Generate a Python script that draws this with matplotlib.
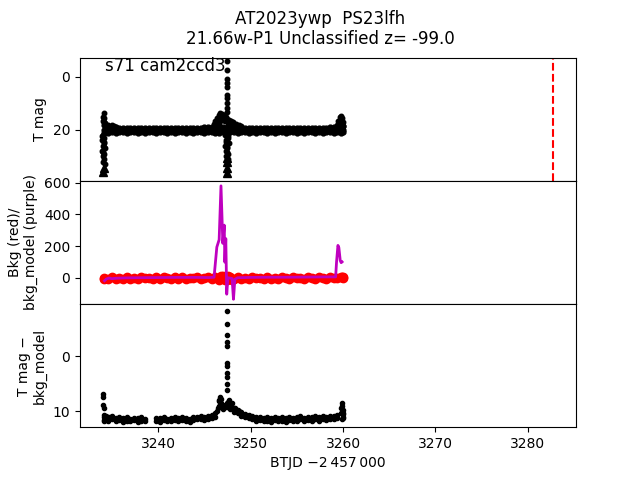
import numpy as np
import matplotlib
matplotlib.use("Agg")
import matplotlib.pyplot as plt

nan = np.nan

# common time base (BTJD - 2457000)
t_base = [3234.2, 3234.6, 3235.0, 3235.4, 3235.8, 3236.2, 3236.6, 3237.0, 3237.4, 3237.8,
          3238.2, 3238.6, 3239.0, 3239.4, 3239.8, 3240.2, 3240.6, 3241.0, 3241.4, 3241.8,
          3242.2, 3242.6, 3243.0, 3243.4, 3243.8, 3244.2, 3244.6, 3245.0, 3245.4, 3245.8,
          3246.2, 3246.6, 3247.0, 3247.4, 3247.8, 3248.2, 3248.6, 3249.0, 3249.4, 3249.8,
          3250.2, 3250.6, 3251.0, 3251.4, 3251.8, 3252.2, 3252.6, 3253.0, 3253.4, 3253.8,
          3254.2, 3254.6, 3255.0, 3255.4, 3255.8, 3256.2, 3256.6, 3257.0, 3257.4, 3257.8,
          3258.2, 3258.6, 3259.0, 3259.4, 3259.8, 3260.0]

# top panel: T mag (band upper / middle / lower rows)
tmag_a = [18.2, 18.6, 18.8, 19.0, 19.2, 19.3, 19.4, 19.2, 19.4, 19.3,
          19.5, 19.3, 19.4, 19.2, 19.4, 19.3, 19.5, 19.4, 19.2, 19.4,
          19.3, 19.5, 19.3, 19.4, 19.2, 19.4, 19.3, 19.1, 19.0, 18.8,
          18.6, 18.7, 18.9, 19.0, 19.1, 19.2, 19.3, 19.4, 19.3, 19.5,
          19.3, 19.4, 19.2, 19.4, 19.3, 19.5, 19.3, 19.4, 19.2, 19.4,
          19.3, 19.5, 19.3, 19.4, 19.2, 19.4, 19.3, 19.4, 19.2, 19.3,
          19.2, 19.1, 19.0, 18.8, 18.6, 18.7]
tmag_m = [20.1, 20.2, 20.0, 20.1, 20.2, 20.0, 20.1, 20.2, 20.0, 20.1,
          20.2, 20.0, 20.1, 20.2, 20.0, 20.1, 20.2, 20.0, 20.1, 20.2,
          20.0, 20.1, 20.2, 20.0, 20.1, 20.2, 20.0, 20.1, 20.2, 20.0,
          20.1, 20.2, 20.0, 20.1, 20.2, 20.0, 20.1, 20.2, 20.0, 20.1,
          20.2, 20.0, 20.1, 20.2, 20.0, 20.1, 20.2, 20.0, 20.1, 20.2,
          20.0, 20.1, 20.2, 20.0, 20.1, 20.2, 20.0, 20.1, 20.2, 20.0,
          20.1, 20.2, 20.0, 20.1, 20.2, 20.0]
tmag_b = [21.1, 21.2, 21.0, 21.1, 20.9, 21.0, 21.1, 20.9, 21.0, 21.2,
          21.0, 21.1, 20.9, 21.0, 21.1, 21.0, 20.9, 21.1, 21.0, 21.2,
          21.0, 20.9, 21.1, 21.0, 21.1, 20.9, 21.0, 21.1, 21.0, 20.9,
          21.1, 21.2, 21.0, 21.1, 20.9, 21.0, 21.1, 21.0, 20.9, 21.1,
          21.0, 21.2, 21.0, 20.9, 21.1, 21.0, 21.1, 20.9, 21.0, 21.1,
          21.0, 20.9, 21.1, 21.0, 21.2, 21.0, 20.9, 21.1, 21.0, 21.1,
          20.9, 21.0, 21.1, 21.0, 21.1, 21.0]
# extra detections (flare, edges)
t_top_x = [3234.1, 3234.0, 3234.15, 3234.05, 3234.2, 3234.3, 3234.4, 3234.6, 3235.0, 3235.2,
           3234.0, 3234.2, 3233.95, 3234.15, 3234.05, 3234.25, 3233.95, 3234.15, 3234.0, 3234.2,
           3234.05, 3234.25, 3233.95, 3234.1, 3234.2, 3234.0,
           3246.0, 3246.2, 3246.4, 3246.55, 3246.7, 3246.9, 3247.1, 3247.3, 3247.5, 3247.7,
           3247.9, 3248.1, 3248.4, 3248.7, 3249.0,
           3246.3, 3246.6, 3246.8, 3247.0, 3247.2, 3247.6, 3247.9, 3248.2, 3248.5,
           3246.7, 3247.0, 3247.3,
           3247.46, 3247.46, 3247.4, 3247.45, 3247.4, 3247.45, 3247.4, 3247.45, 3247.4, 3247.45,
           3247.25, 3247.55, 3247.35, 3247.65, 3247.25, 3247.5, 3247.35, 3247.6, 3247.3, 3247.55,
           3247.4, 3247.6, 3247.3, 3247.5, 3247.45,
           3259.3, 3259.5, 3259.65, 3259.75, 3259.85, 3259.95, 3260.0, 3259.6, 3259.8, 3259.7]
m_top_x = [13.7, 15.0, 15.6, 16.5, 17.0, 17.6, 18.0, 18.0, 18.2, 18.4,
           22.0, 23.0, 24.0, 25.0, 26.0, 27.0, 28.0, 29.0, 30.0, 31.0,
           32.0, 33.0, 22.5, 24.5, 26.5, 28.5,
           17.8, 16.8, 15.6, 14.6, 13.8, 14.0, 14.6, 15.2, 15.8, 16.3,
           16.8, 17.2, 17.7, 18.1, 18.5,
           18.4, 17.6, 16.4, 16.2, 16.8, 17.4, 18.0, 18.3, 18.7,
           15.2, 15.0, 16.3,
           -5.8, -2.6, 0.8, 2.4, 3.7, 6.8, 8.0, 9.9, 11.8, 13.1,
           22.0, 23.0, 24.0, 25.0, 26.0, 27.0, 28.0, 29.0, 30.0, 31.0,
           32.0, 22.5, 24.5, 26.5, 28.5,
           18.0, 16.5, 15.2, 14.8, 15.5, 17.0, 18.5, 17.5, 17.0, 16.5]
# upper limits
t_lim = [3234.1, 3234.05, 3247.4, 3247.45, 3247.45, 3247.5]
m_lim = [34.5, 36.0, 30.5, 32.3, 34.2, 36.2]
t_disc = 3282.7

# middle panel: background (red) and background model (purple)
bkg = [-2, -10, 4, -7, 1, -11, 3, -6, 0, -9,
       5, -4, -1, -10, 3, -7, 4, -3, -11, 2,
       -5, 3, -9, 0, -4, 4, -10, -1, 3, -7,
       6, -13, 9, -12, 7, -10, 4, -5, 1, -8,
       3, -4, 0, -10, 4, -5, 1, -7, 5, -3,
       -9, 3, -4, 0, -10, 4, -2, -7, 5, -1,
       -6, 3, -3, 1, 5, 4]
t_bkg_x = [3234.1, 3246.8, 3247.2, 3247.6, 3248.0, 3259.9, 3260.0]
bkg_x = [-6, 12, -16, 10, -14, 2, -4]
t_model = [3234.2, 3234.4, 3234.7, 3235.0, 3235.5, 3236.5, 3238.0, 3240.0, 3242.0, 3244.0,
           3245.5, 3246.05, 3246.35, 3246.6, 3246.8, 3247.0, 3247.15, 3247.22, 3247.32, 3247.42,
           3247.55, 3248.0, 3248.15, 3248.3, 3248.6, 3250.0, 3252.0, 3254.0, 3256.0, 3258.0,
           3259.2, 3259.3, 3259.45, 3259.55, 3259.7, 3259.8, 3259.9]
bkg_model = [-19, -8, -2, -6, -3, -1, 0, 1, 2, 2,
             1, 3, 193, 240, 580, 217, 332, 98, 247, -104,
             0, -5, -136, -10, 0, 2, 3, 3, 4, 5,
             5, 100, 204, 190, 108, 95, 100]

# bottom panel: T mag - bkg_model (two rows of the dense baseline)
dmag_a = [11.0, 11.1, 10.9, 11.2, 11.0, 11.3, 11.1, 11.4, 11.2, 11.3,
          11.1, 11.4, nan, nan, 11.2, 11.3, 11.1, 11.4, 11.2, 11.0,
          11.3, 11.1, 11.2, 11.4, 11.1, 11.0, 10.8, 11.1, 10.9, 10.7,
          10.3, 8.0, 9.0, 8.6, 8.8, 9.4, 9.8, 10.2, 10.5, 10.7,
          10.9, 11.1, 11.0, 11.2, 11.1, 11.3, 11.0, 11.2, 11.1, 11.3,
          11.0, 11.2, 11.1, 10.9, 11.2, 11.0, 11.1, 10.9, 11.1, 10.8,
          11.0, 10.9, 10.8, 10.6, 9.5, 10.5]
dmag_b = [11.6, 11.7, 11.5, 11.8, 11.6, 11.9, 11.7, 11.8, 11.6, 11.9,
          11.7, 11.8, nan, nan, 11.7, 11.9, 11.6, 11.8, 11.7, 11.6,
          11.8, 11.6, 11.7, 11.9, 11.6, 11.5, 11.4, 11.6, 11.5, 11.3,
          11.0, 9.0, 9.6, 9.3, 9.6, 10.1, 10.4, 10.8, 11.1, 11.3,
          11.5, 11.7, 11.6, 11.8, 11.7, 11.9, 11.6, 11.8, 11.7, 11.9,
          11.6, 11.8, 11.7, 11.5, 11.8, 11.6, 11.7, 11.5, 11.7, 11.4,
          11.6, 11.5, 11.4, 11.2, 10.4, 11.3]
t_bot_x = [3234.05, 3234.05, 3234.05, 3234.1, 3234.1, 3234.15, 3234.4, 3234.8,
           3246.4, 3246.5, 3246.6, 3246.7, 3246.85, 3247.0, 3247.2, 3246.6, 3246.8,
           3247.46, 3247.46, 3247.46, 3247.46, 3247.46, 3247.46, 3247.46, 3247.46, 3247.46, 3247.46, 3247.46,
           3247.6, 3247.9, 3248.3, 3248.8, 3247.7, 3248.0,
           3259.85, 3259.9, 3259.95, 3260.0, 3259.95, 3259.9]
d_bot_x = [6.8, 7.4, 8.8, 9.5, 10.6, 11.8, 10.8, 11.0,
           10.0, 9.4, 8.2, 7.4, 7.8, 8.8, 9.3, 9.2, 8.6,
           -8.2, -5.8, -3.8, -2.6, -1.9, 1.2, 1.8, 3.0, 3.8, 5.0, 6.2,
           8.3, 8.9, 9.4, 10.0, 8.0, 8.6,
           8.5, 9.0, 9.8, 10.3, 11.0, 11.5]

fig, axes = plt.subplots(3, 1, sharex=True, figsize=(6.4, 4.8), dpi=100)
fig.subplots_adjust(hspace=0)
ax1, ax2, ax3 = axes

ax1.plot(t_base, tmag_a, 'k.', ms=7)
ax1.plot(t_base, tmag_m, 'k.', ms=7)
ax1.plot(t_base, tmag_b, 'k.', ms=7)
ax1.plot(t_top_x, m_top_x, 'k.', ms=6.5)
ax1.plot(t_lim, m_lim, 'k^', ms=6)
ax1.axvline(t_disc, color='r', ls='--', lw=1.5)
ax1.set_ylim(39.2, -7.2)
ax1.set_yticks([0, 20])
ax1.set_ylabel('T mag')
ax1.text(0.05, 0.89, 's71 cam2ccd3', transform=ax1.transAxes, fontsize=12, va='baseline')

ax2.plot(t_base, bkg, 'ro', ms=6)
ax2.plot(t_bkg_x, bkg_x, 'ro', ms=6)
ax2.plot(t_model, bkg_model, 'm-', lw=2)
ax2.set_ylim(-166, 612)
ax2.set_yticks([0, 200, 400, 600])
ax2.set_ylabel('Bkg (red)/\nbkg_model (purple)')

ax3.plot(t_base, dmag_a, 'k.', ms=6)
ax3.plot(t_base, dmag_b, 'k.', ms=6)
ax3.plot(t_bot_x, d_bot_x, 'k.', ms=6)
ax3.set_ylim(12.9, -9.45)
ax3.set_yticks([0, 10])
ax3.set_ylabel('T mag \u2212\nbkg_model')

ax3.set_xlim(3231.55, 3285.2)
ax3.set_xticks([3240, 3250, 3260, 3270, 3280])
ax3.set_xlabel('BTJD \u22122\u2009457\u2009000')

fig.suptitle('AT2023ywp  PS23lfh\n21.66w-P1 Unclassified z= -99.0')

fig.savefig('out.png', dpi=100)
